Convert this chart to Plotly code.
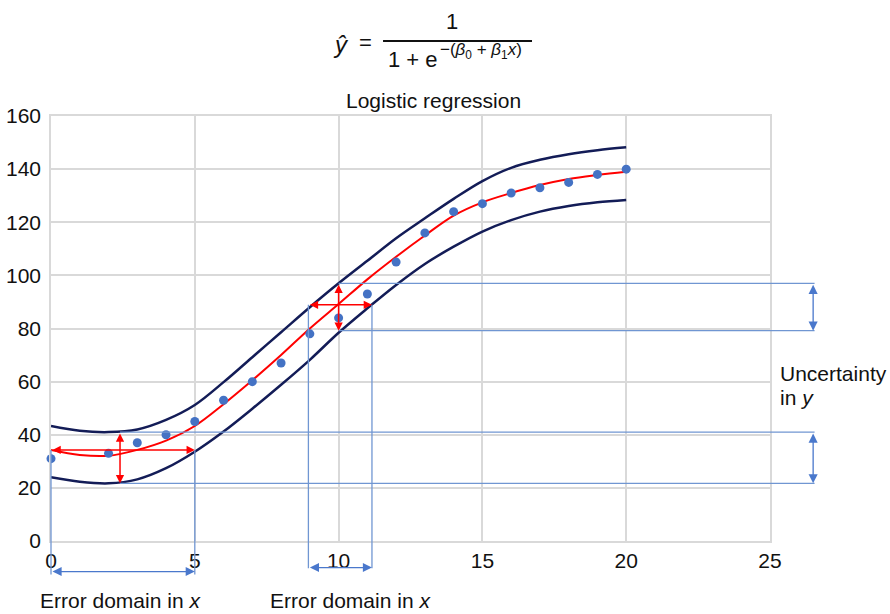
import plotly.graph_objects as go

# Observed points
x_obs = [0, 2, 3, 4, 5, 6, 7, 8, 9, 10, 11, 12, 13, 14, 15, 16, 17, 18, 19, 20]
y_obs = [31, 33, 37, 40, 45, 53, 60, 67, 78, 84, 93, 105, 116, 124, 127, 131, 133, 135, 138, 140]

# Fitted curve and its confidence band
x_fit = list(range(21))
y_fit = [34.3, 32.4, 32.1, 34.3, 37.8, 43.3, 51.5, 60.5, 70.0, 80.0, 89.2,
         98.5, 107.0, 115.0, 122.5, 127.5, 131.0, 134.0, 136.3, 137.8, 139.0]
y_upper = [43.3, 41.5, 41.0, 42.0, 45.6, 51.2, 59.8, 69.2, 78.6, 88.0, 97.0,
           105.5, 114.0, 121.5, 128.8, 135.5, 140.5, 143.5, 145.6, 147.1, 148.2]
y_lower = [24.0, 22.3, 21.7, 23.2, 27.4, 33.6, 41.2, 49.8, 58.8, 68.2, 78.4,
           87.6, 96.4, 104.3, 110.8, 116.5, 120.8, 124.0, 126.1, 127.5, 128.4]

x_ticks = [0, 5, 10, 15, 20, 25]
y_ticks = [0, 20, 40, 60, 80, 100, 120, 140, 160]

X_RANGE = [0, 25]
Y_RANGE = [0, 160]

# Error-domain / uncertainty construction (data units)
err1_y, err1_x = 34.3, [0, 5]          # horizontal red arrow, left
unc1_x, unc1_y = 2.4, [21.7, 41.0]      # vertical red arrow, left
err2_y, err2_x = 88.9, [8.95, 11.16]    # horizontal red arrow, middle
unc2_x, unc2_y = 10.0, [79.2, 97.0]     # vertical red arrow, middle
dom_arrow_y = [-11.5, -10.0]            # blue domain arrows below the axis
dom_line_bottom = [-12.6, -10.3]
unc_arrow_x = 26.5                      # blue uncertainty arrows right of plot
unc_line_end = 26.55

FONT = "Liberation Sans, Arial, sans-serif"
RED = "#ff0000"
NAVY = "#131c57"
DOT = "#4472c4"
GUIDE = "#7096d2"
GUIDE_HEAD = "#4a78cc"
GRID = "#d9d9d9"


def xp(v):
    return (v - X_RANGE[0]) / (X_RANGE[1] - X_RANGE[0])


def yp(v):
    return (v - Y_RANGE[0]) / (Y_RANGE[1] - Y_RANGE[0])


fig = go.Figure()
fig.add_trace(go.Scatter(x=x_fit, y=y_upper, mode="lines", line=dict(color=NAVY, width=2.5, shape="spline")))
fig.add_trace(go.Scatter(x=x_fit, y=y_lower, mode="lines", line=dict(color=NAVY, width=2.5, shape="spline")))
fig.add_trace(go.Scatter(x=x_fit, y=y_fit, mode="lines", line=dict(color=RED, width=2, shape="spline")))
fig.add_trace(go.Scatter(x=x_obs, y=y_obs, mode="markers", cliponaxis=False,
                         marker=dict(color=DOT, size=9)))

shapes = []


def guide(x0, y0, x1, y1):
    shapes.append(dict(type="line", xref="paper", yref="paper",
                       x0=xp(x0), x1=xp(x1), y0=yp(y0), y1=yp(y1),
                       line=dict(color=GUIDE, width=1.3)))


# horizontal guides to the right-hand uncertainty arrows
for yv in unc1_y:
    guide(unc1_x, yv, unc_line_end, yv)
for yv in unc2_y:
    guide(unc2_x, yv, unc_line_end, yv)
# vertical guides down to the domain arrows
for xv in err1_x:
    guide(xv, err1_y, xv, dom_line_bottom[0])
for xv in err2_x:
    guide(xv, err2_y, xv, dom_line_bottom[1])

# fraction bar of the formula
shapes.append(dict(type="line", xref="paper", yref="paper",
                   x0=0.4618, x1=0.669, y0=1.1765, y1=1.1765,
                   line=dict(color="#111111", width=2)))

annotations = []


def dbl_arrow(**kw):
    base = dict(text="", showarrow=True, arrowside="end+start",
                arrowhead=2, startarrowhead=2, standoff=0, startstandoff=0,
                font=dict(size=1))
    base.update(kw)
    annotations.append(base)


red_style = dict(arrowcolor=RED, arrowwidth=1.5, arrowsize=1.1, startarrowsize=1.1)
blue_style = dict(arrowcolor=GUIDE_HEAD, arrowwidth=1.3, arrowsize=1.4, startarrowsize=1.4)

dbl_arrow(x=err1_x[1], y=err1_y, ax=err1_x[0], ay=err1_y, xref="x", yref="y", axref="x", ayref="y", **red_style)
dbl_arrow(x=unc1_x, y=unc1_y[0], ax=unc1_x, ay=unc1_y[1], xref="x", yref="y", axref="x", ayref="y", **red_style)
dbl_arrow(x=err2_x[1], y=err2_y, ax=err2_x[0], ay=err2_y, xref="x", yref="y", axref="x", ayref="y", **red_style)
dbl_arrow(x=unc2_x, y=unc2_y[0], ax=unc2_x, ay=unc2_y[1], xref="x", yref="y", axref="x", ayref="y", **red_style)

dbl_arrow(x=err1_x[1], ax=err1_x[0], xref="x", axref="x",
          y=yp(dom_arrow_y[0]), yref="paper", ay=0, ayref="pixel", **blue_style)
dbl_arrow(x=err2_x[1], ax=err2_x[0], xref="x", axref="x",
          y=yp(dom_arrow_y[1]), yref="paper", ay=0, ayref="pixel", **blue_style)
dbl_arrow(x=xp(unc_arrow_x), xref="paper", ax=0, axref="pixel",
          y=unc2_y[0], ay=unc2_y[1], yref="y", ayref="y", **blue_style)
dbl_arrow(x=xp(unc_arrow_x), xref="paper", ax=0, axref="pixel",
          y=unc1_y[0], ay=unc1_y[1], yref="y", ayref="y", **blue_style)


def label(text, x, y, xref="paper", yref="paper", xanchor="center", size=21):
    annotations.append(dict(text=text, x=x, y=y, xref=xref, yref=yref,
                            xanchor=xanchor, yanchor="middle", showarrow=False,
                            font=dict(family=FONT, size=size, color="#111111")))


label("Error domain in <i>x</i>", 2.43, -0.141, xref="x")
label("Error domain in <i>x</i>", 10.43, -0.141, xref="x")
label("Uncertainty", 1.011, 0.393, xanchor="left")
label("in <i>y</i>", 1.011, 0.3365, xanchor="left")
label("Logistic regression", 0.532, 1.0376)

# formula  y-hat = 1 / (1 + e^-(b0 + b1 x))
label("<i>ŷ</i>", 0.4033, 1.168, size=24)
label("=", 0.438, 1.172, size=22)
label("1", 0.5577, 1.2212, size=22)
label("1 + e", 0.4653, 1.134, xanchor="left", size=22)
label("−(<i>β</i><sub>0</sub> + <i>β</i><sub>1</sub><i>x</i>)", 0.538, 1.152, xanchor="left", size=17)

axis_common = dict(showgrid=True, gridcolor=GRID, gridwidth=1.5, showline=True,
                   linecolor=GRID, linewidth=1.5, mirror=True, zeroline=False,
                   ticks="", automargin=False,
                   tickfont=dict(family=FONT, size=21, color="#111111"))

fig.update_layout(
    width=890, height=614,
    margin=dict(l=51, r=120, t=116, b=73),
    paper_bgcolor="white", plot_bgcolor="white",
    showlegend=False,
    font=dict(family=FONT, size=21, color="#111111"),
    xaxis=dict(range=X_RANGE, tickvals=x_ticks, **axis_common),
    yaxis=dict(range=Y_RANGE, tickvals=y_ticks, ticklabelstandoff=4, **axis_common),
    shapes=shapes,
    annotations=annotations,
)

fig.write_html("out.html")
